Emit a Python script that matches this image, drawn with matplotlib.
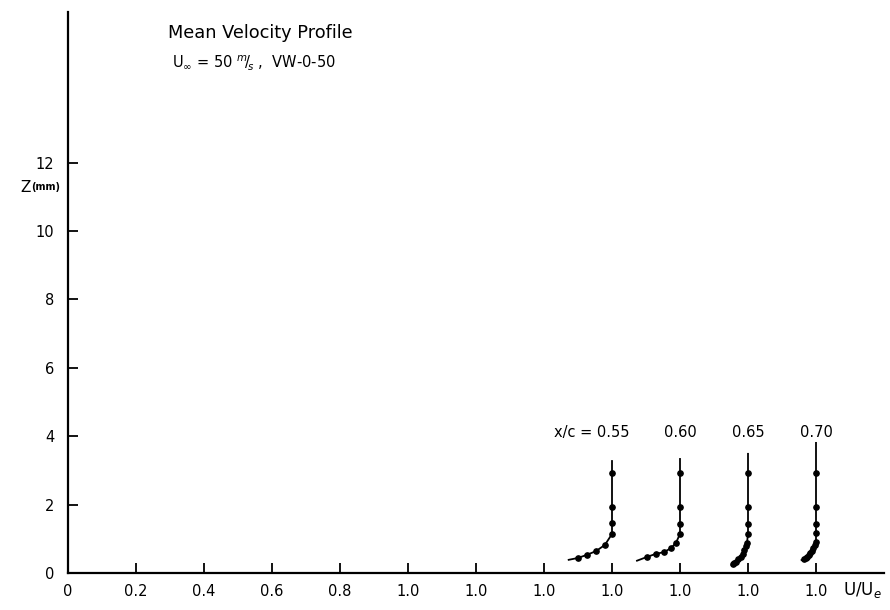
import matplotlib
matplotlib.use("Agg")
import matplotlib.pyplot as plt

# ---- data ----
x_tick_pos = [0.0, 0.2, 0.4, 0.6, 0.8, 1.0, 1.2, 1.4, 1.6, 1.8, 2.0, 2.2]
x_tick_labels = ["0", "0.2", "0.4", "0.6", "0.8", "1.0", "1.0", "1.0", "1.0", "1.0", "1.0", "1.0"]
y_ticks = [0, 2, 4, 6, 8, 10, 12]

station_labels = ["x/c = 0.55", "0.60", "0.65", "0.70"]
station_offsets = [0.6, 0.8, 1.0, 1.2]   # plot position of U/Ue = 0 for each profile

p1_u = [0.900, 0.926, 0.953, 0.979, 1.0, 1.0, 1.0, 1.0]
p1_z = [0.44, 0.53, 0.64, 0.82, 1.14, 1.46, 1.93, 2.92]
p1_end = (0.870, 0.38)
p1_top = 3.30

p2_u = [0.903, 0.929, 0.953, 0.974, 0.988, 1.0, 1.0, 1.0, 1.0]
p2_z = [0.47, 0.56, 0.61, 0.73, 0.88, 1.14, 1.43, 1.93, 2.92]
p2_end = (0.871, 0.35)
p2_top = 3.36

p3_u = [0.956, 0.960, 0.965, 0.972, 0.979, 0.984, 0.988, 0.993, 0.997, 1.0, 1.0, 1.0, 1.0]
p3_z = [0.25, 0.28, 0.32, 0.40, 0.47, 0.57, 0.67, 0.78, 0.88, 1.14, 1.43, 1.93, 2.92]
p3_end = (0.950, 0.21)
p3_top = 3.51

p4_u = [0.965, 0.970, 0.974, 0.978, 0.982, 0.987, 0.991, 0.996, 1.0, 1.0, 1.0, 1.0, 1.0]
p4_z = [0.40, 0.44, 0.47, 0.52, 0.58, 0.65, 0.73, 0.82, 0.91, 1.17, 1.43, 1.93, 2.92]
p4_end = (0.955, 0.37)
p4_top = 3.83

profiles = [(p1_u, p1_z, p1_end, p1_top),
            (p2_u, p2_z, p2_end, p2_top),
            (p3_u, p3_z, p3_end, p3_top),
            (p4_u, p4_z, p4_end, p4_top)]

# ---- figure ----
fig = plt.figure(figsize=(8.9, 6.1), dpi=100)
ax = fig.add_axes([68/890, 37/610, (884-68)/890, (598-37)/610])
ax.set_xlim(0, 2.4)
ax.set_ylim(0, 16.4)

for sp in ["top", "right"]:
    ax.spines[sp].set_visible(False)
for sp in ["left", "bottom"]:
    ax.spines[sp].set_linewidth(1.6)
    ax.spines[sp].set_color("black")

ax.set_xticks(x_tick_pos)
ax.set_xticklabels(x_tick_labels)
ax.set_yticks(y_ticks)
ax.set_yticklabels([str(v) for v in y_ticks])
ax.tick_params(axis="both", direction="in", length=7, width=1.3, labelsize=10.5, colors="black")
ax.tick_params(axis="x", pad=8)
ax.tick_params(axis="y", pad=10)

for i, ((u, z, end, top), off, lab) in enumerate(zip(profiles, station_offsets, station_labels)):
    line_u = [end[0]] + list(u) + [1.0]
    line_z = [end[1]] + list(z) + [top]
    ax.plot([off + v for v in line_u], line_z, color="black", lw=1.3, solid_capstyle="butt")
    ax.plot([off + v for v in u], z, "o", color="black", markersize=3.8)
    if i == 0:
        ax.text(off + 1.05, 4.1, lab, ha="right", va="center", fontsize=10.5)
    else:
        ax.text(off + 1.0, 4.1, lab, ha="center", va="center", fontsize=10.5)

ax.text(0.295, 15.8, "Mean Velocity Profile", fontsize=12.8, va="center", ha="left")
ax.text(0.305, 14.9, r"U$_{\infty}$ = 50 $^{m}\!/\!_{s}$ ,  VW-0-50", fontsize=10.5, va="center", ha="left")

fig.text(20/890, 1 - 187/610, "Z", fontsize=11, va="center", ha="left")
fig.text(31/890, 1 - 187/610, "(mm)", fontsize=7, va="center", ha="left", weight="bold")
fig.text(843/890, 1 - 590/610, r"U/U$_e$", fontsize=12, va="center", ha="left")

fig.savefig("out.png", dpi=100, facecolor="white")
